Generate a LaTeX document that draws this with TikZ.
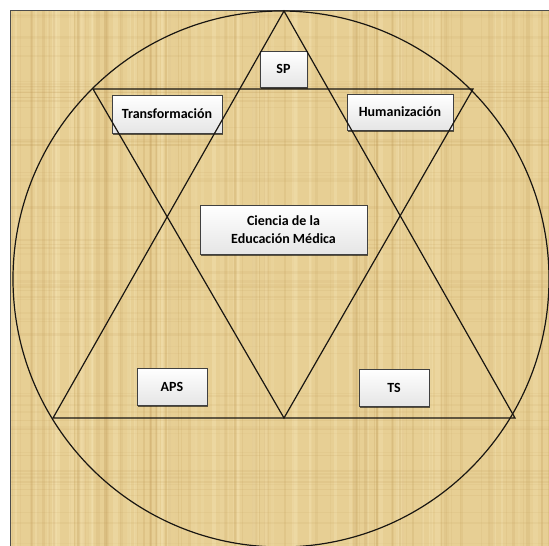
\documentclass[tikz,border=0pt]{standalone}
\usepackage{fontspec}
\setmainfont{Carlito}[BoldFont={Carlito Bold}]
\usetikzlibrary{shadows}
\definecolor{papyrus}{RGB}{231,207,148}
\definecolor{papyrusdark}{RGB}{190,152,85}
\definecolor{papyruslight}{RGB}{245,228,180}
\definecolor{linecol}{RGB}{25,22,18}
\tikzset{
  labelbox/.style={draw=black!75, line width=0.9pt, top color=white, bottom color=black!10,
    drop shadow={shadow xshift=1.3pt, shadow yshift=-1.5pt, opacity=0.6, fill=black},
    font=\bfseries\fontsize{14}{18.5}\selectfont, align=center, inner sep=0pt},
  figline/.style={draw=linecol, line width=1.2pt, line join=miter}
}
\begin{document}
\begin{tikzpicture}[x=1pt,y=-1pt]
\useasboundingbox (0,0) rectangle (549,546);
\fill[white] (0,0) rectangle (549,546);
% papyrus background
\fill[papyrus] (10,10) rectangle (549,546);
\pgfmathsetseed{7}
\begin{scope}
\clip (10,10) rectangle (549,546);
\foreach \i in {1,...,90}{
  \pgfmathsetmacro{\xx}{10+rnd*539}
  \pgfmathsetmacro{\ww}{0.5+rnd*3}
  \pgfmathsetmacro{\oo}{0.08+rnd*0.14}
  \fill[papyrusdark, opacity=\oo] (\xx,10) rectangle ++(\ww,536);
}
\foreach \i in {1,...,60}{
  \pgfmathsetmacro{\xx}{10+rnd*539}
  \pgfmathsetmacro{\ww}{1+rnd*4}
  \pgfmathsetmacro{\oo}{0.15+rnd*0.25}
  \fill[papyruslight, opacity=\oo] (\xx,10) rectangle ++(\ww,536);
}
\foreach \i in {1,...,70}{
  \pgfmathsetmacro{\yy}{10+rnd*536}
  \pgfmathsetmacro{\hh}{0.5+rnd*2}
  \pgfmathsetmacro{\oo}{0.05+rnd*0.1}
  \fill[papyrusdark, opacity=\oo] (10,\yy) rectangle ++(539,\hh);
}
\end{scope}
\draw[black!70, line width=0.8pt] (10,546) -- (10,10) -- (549,10);

% boxes
\node[labelbox, minimum width=47pt, minimum height=36pt] (sp) at (283.5,69) {SP};
\node[labelbox, minimum width=110pt, minimum height=38pt] (trans) at (167,114) {Transformación};
\node[labelbox, minimum width=106pt, minimum height=36pt] (hum) at (400,112) {Humanización};
\node[labelbox, minimum width=167pt, minimum height=49pt] (cem) at (283.5,229.5) {Ciencia de la\\Educación Médica};
\node[labelbox, minimum width=70pt, minimum height=37pt] (aps) at (172,386.5) {APS};
\node[labelbox, minimum width=70pt, minimum height=37pt] (ts) at (394,387.5) {TS};

% geometry
\coordinate (ctr) at (281,279);
\coordinate (utop) at (284,11);
\coordinate (ul) at (53,418);
\coordinate (ur) at (515,418);
\coordinate (dl) at (93,89);
\coordinate (dr) at (473,89);
\coordinate (dbot) at (284,418);
\draw[figline] (ctr) circle[radius=268];
\draw[figline] (utop) -- (ul) -- (ur) -- cycle;
\draw[figline] (dl) -- (dr) -- (dbot) -- cycle;
\end{tikzpicture}
\end{document}
